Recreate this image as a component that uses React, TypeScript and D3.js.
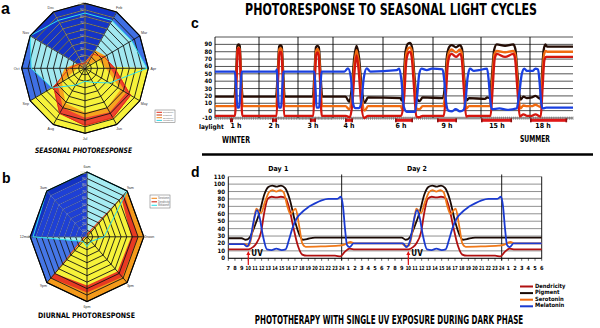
import React, { useLayoutEffect, useRef, useState } from 'react';
import * as d3 from 'd3';

const NARROW = "'Liberation Sans Narrow','DejaVu Sans Condensed','Liberation Sans',Arial,sans-serif";
const COMIC = "'DejaVu Sans Condensed','DejaVu Sans',sans-serif";
const ARIAL = "'Liberation Sans',Arial,sans-serif";

// ---------------- Panel a : seasonal radar ----------------
const MONTHS = ['Jan', 'Feb', 'Mar', 'Apr', 'May', 'Jun', 'Jul', 'Aug', 'Sep', 'Oct', 'Nov', 'Dec'];
const A_BASE = [100, 100, 100, 100, 100, 100, 100, 100, 100, 100, 100, 100];
const A_CYAN = [85, 85, 85, 98, 45, 25, 20, 30, 60, 85, 100, 85];
const A_YELLOW = [0, 0, 8, 100, 100, 100, 100, 100, 100, 5, 0, 0];
const A_DARK = [100, 100, 0, 0, 0, 0, 0, 0, 0, 0, 100, 100];
const A_RED = [8, 25, 35, 47, 83, 88, 88, 80, 57, 25, 12, 8];
const A_ORANGE = [10, 32, 38, 40, 75, 78, 76, 70, 50, 32, 15, 8];
const A_INNER = [0, 5, 25, 33, 65, 70, 68, 62, 42, 12, 2, 0];

// ---------------- Panel b : diurnal radar ----------------
const DAYTIMES = ['6am', '9am', '12noon', '3pm', '6pm', '9pm', '12midn', '3am'];
const B_BASE = [100, 100, 100, 100, 100, 100, 100, 100];
const B_CYAN = [100, 100, 30, 10, 15, 10, 95, 100];
const B_DARK = [100, 0, 0, 0, 0, 0, 100, 100];
const B_DARK2 = [90, 0, 0, 0, 0, 0, 90, 90];
const B_ORANGE = [3, 100, 100, 100, 100, 100, 3, 2];
const B_RED = [5, 93, 90, 88, 86, 90, 6, 3];
const B_YELLOW = [2, 85, 78, 76, 75, 80, 3, 2];

const RING_VALUES = [10, 20, 30, 40, 50, 60, 70, 80, 90, 100];
const RING_LABELS = ['10', '20', '30', '40', '50', '60', '70', '80', '90', '100'];

// ---------------- Panel c : seasonal light cycles ----------------
const SEG_HOURS = [0, 24, 48, 72, 96, 120, 144, 168, 192];
const C_Y_TICKS = [-10, 0, 10, 20, 30, 40, 50, 60, 70, 80, 90, 100];
const C_Y_LABELS = ['-10', '0', '10', '20', '30', '40', '50', '60', '70', '80', '90'];
const C_SEG_LABELS = ['1 h', '2 h', '3 h', '4 h', '6 h', '9 h', '15 h', '18 h'];
const C_LABEL_HOURS = [11.5, 33.2, 58.3, 79.7, 104.6, 127, 151.8, 175.3];
const C_LIGHT_ON = [8.2, 32, 56.2, 77.8, 101.8, 122, 144, 168];
const C_LIGHT_OFF = [9.8, 35.1, 60.3, 81.6, 110.4, 132, 159.2, 188.7];

const C_BLACK: [number, number][] = [
  [0, 19], [10.6, 19], [11.6, 55], [12.2, 88], [12.9, 90], [13.5, 88], [14.1, 55], [15.1, 19],
  [34.5, 19], [35.6, 55], [36.4, 87], [37.2, 89], [38, 87], [38.8, 55], [39.8, 19],
  [58.2, 19], [59.4, 55], [60.3, 86], [61.3, 88], [62.3, 86], [63.3, 55], [64.6, 19],
  [78, 19], [79.8, 12], [81, 30], [82.2, 72], [83.3, 88], [84.5, 72], [85.8, 30], [87.2, 11], [88.8, 18],
  [104.3, 17], [105, 13.5], [105.8, 35], [106.8, 80], [108, 91], [109, 92], [110, 85], [111, 50], [112.3, 16], [113.6, 13], [115, 18],
  [125, 17], [126, 35], [127, 75], [128.2, 87], [129.3, 89], [131.5, 86], [133.5, 89], [134.5, 84], [135.6, 45], [136.8, 14], [138, 17],
  [146, 16], [147, 18], [148.3, 17], [149.3, 45], [150.4, 82], [151.7, 90], [155.8, 88], [159.8, 90], [160.8, 84], [162, 45], [163.4, 15], [164.8, 19], [166.5, 17],
  [169, 18], [171, 20], [173.8, 16], [174.6, 45], [175.6, 82], [176.6, 90], [177.5, 87], [180, 87], [192, 87],
];
const C_ORANGE: [number, number][] = [
  [0, 6], [10.7, 6], [11.7, 50], [12.3, 83], [12.9, 86], [13.5, 83], [14.1, 50], [15.1, 6],
  [34.6, 6], [35.7, 50], [36.5, 83], [37.2, 85], [37.9, 83], [38.7, 50], [39.7, 6],
  [58.3, 6], [59.5, 50], [60.4, 81], [61.3, 84], [62.2, 81], [63.2, 50], [64.5, 6],
  [78, 6], [79.8, 2], [81.1, 22], [82.3, 65], [83.3, 82], [84.4, 65], [85.7, 22], [87.2, 0], [88.8, 6],
  [104.5, 6], [105.2, 2], [106, 30], [107, 75], [108.2, 85], [109, 86], [109.9, 80], [110.9, 45], [112.2, 3], [113.6, 2], [115, 6],
  [125.2, 6], [126.2, 30], [127.2, 70], [128.3, 81], [129.3, 83], [131.5, 79], [133.5, 83], [134.4, 78], [135.5, 40], [136.7, 3], [138, 6],
  [148.5, 6], [149.5, 40], [150.5, 76], [151.7, 81], [155.8, 79], [159.8, 81], [160.8, 76], [161.9, 40], [163.2, 3], [164.8, 7], [166.5, 6],
  [169, 6], [171, 8], [173.9, 5], [174.8, 40], [175.8, 76], [176.8, 81], [177.7, 80], [192, 80],
];
const C_RED: [number, number][] = [
  [0, -7], [10.9, -7], [11.8, 45], [12.4, 82], [12.9, 85], [13.4, 82], [14, 45], [14.9, -7],
  [34.8, -7], [35.8, 45], [36.6, 78], [37.2, 80], [37.8, 78], [38.6, 45], [39.5, -7],
  [58.5, -7], [59.6, 45], [60.5, 76], [61.3, 79], [62.1, 76], [63, 45], [64.3, -7],
  [78.2, -7], [80, -9], [81.3, 10], [82.4, 55], [83.3, 75], [84.3, 55], [85.5, 10], [87, -10], [88.8, -7],
  [104.7, -7], [106.2, 20], [107.2, 68], [108.3, 79], [109, 80], [109.8, 72], [110.8, 35], [112, -8], [113.3, -9], [115, -7],
  [125.4, -7], [126.4, 20], [127.4, 63], [128.4, 75], [129.3, 77], [131.5, 73], [133.5, 77], [134.3, 72], [135.4, 30], [136.6, -8], [138, -7],
  [148.7, -7], [149.7, 30], [150.7, 70], [151.7, 77], [155.8, 73], [159.8, 77], [160.7, 70], [161.8, 30], [163, -8], [164.8, -5], [166.5, -7],
  [169, -7], [171, -5], [174, -8], [175, 30], [176, 68], [177, 73], [192, 73],
];
const C_BLUE: [number, number][] = [
  [0, 53], [10.8, 53], [11.6, 30], [12.2, 4], [13.2, 4], [13.9, 30], [14.6, 53],
  [34.4, 53], [35, 56], [35.6, 30], [36.3, 4], [37.6, 4], [38.3, 30], [39, 53],
  [59.2, 53], [60, 30], [60.7, 4], [62.5, 4], [63.3, 30], [64.2, 53],
  [77.5, 53], [79.2, 57.5], [80.6, 45], [81.6, 10], [82.6, 3.5], [84.5, 3.5], [85.5, 10], [86.8, 45], [88.2, 57.5], [90, 53],
  [102.6, 55], [103.8, 57], [104.9, 40], [106, 5], [107.4, -1.5], [111.4, -1.5], [112.4, 20], [113.4, 50], [114.5, 57], [117, 55], [119.5, 57],
  [124.8, 56], [125.6, 42], [126.7, 8], [127.7, 0], [129.5, -1], [131.3, 2], [133.5, -1], [135.3, 1], [136.3, 15], [137.3, 45], [138.5, 57], [140.5, 54], [143, 55],
  [147, 57], [147.8, 40], [148.6, 12], [149.4, 2], [153, 3], [157, 1], [161.5, 3], [162.8, 25], [164, 50], [165.2, 57], [166.5, 54],
  [169.5, 54], [171, 57], [172.5, 56], [173.3, 40], [174.2, 12], [175, 3], [177, 4], [192, 4],
];

// ---------------- Panel d : phototherapy ----------------
const D_Y_TICKS = [0, 10, 20, 30, 40, 50, 60, 70, 80, 90, 100, 110];
const D_X_HOURS = [7, 8, 9, 10, 11, 12, 13, 14, 15, 16, 17, 18, 19, 20, 21, 22, 23, 24, 25, 26, 27, 28, 29, 30, 31, 32, 33, 34, 35, 36, 37, 38, 39, 40, 41, 42, 43, 44, 45, 46, 47, 48, 49, 50, 51, 52, 53, 54];
const D_X_LABELS = ['7', '8', '9', '10', '11', '12', '13', '14', '15', '16', '17', '18', '19', '20', '21', '22', '23', '24', '1', '2', '3', '4', '5', '6', '7', '8', '9', '10', '11', '12', '13', '14', '15', '16', '17', '18', '19', '20', '21', '22', '23', '24', '1', '2', '3', '4', '5', '6'];
const D_DAY_LINES = [24, 48];
const D_DAYS = ['Day 1', 'Day 2'];
const D_DAY_LABEL_HOURS = [14.5, 35.3];
const D_UV_HOURS = [10, 34];
const D_LEGEND = ['Dendricity', 'Pigment', 'Serotonin', 'Melatonin'];

const D_BLACK: [number, number][] = [
  [7, 27], [9, 27], [9.6, 25], [10.2, 28], [10.9, 42], [11.7, 62], [12.4, 86], [13, 96], [13.6, 98], [14.2, 96.5], [14.9, 98], [15.5, 95], [16.2, 80], [17, 50], [17.7, 31], [18.2, 25], [18.8, 26], [20, 28],
  [33, 28], [33.6, 25], [34.2, 28], [34.9, 42], [35.7, 62], [36.4, 86], [37, 96], [37.6, 98], [38.2, 96.5], [38.9, 98], [39.5, 95], [40.2, 80], [41, 50], [41.7, 31], [42.2, 25], [42.8, 26], [44, 28], [54, 28],
];
const D_ORANGE: [number, number][] = [
  [7, 19], [9.5, 19], [10.1, 17], [10.6, 35], [11.2, 67], [11.9, 61], [12.5, 76], [13.1, 89], [13.6, 92], [14.2, 90], [14.8, 92], [15.3, 89], [15.8, 72], [16.3, 60], [17.1, 67], [17.6, 45], [18.1, 20], [18.6, 15.5], [21, 16], [23.5, 17], [24.3, 18], [25.3, 22], [26, 20],
  [33, 20], [33.5, 17], [34.1, 17], [34.6, 35], [35.2, 67], [35.9, 61], [36.5, 76], [37.1, 89], [37.6, 92], [38.2, 90], [38.8, 92], [39.3, 89], [39.8, 72], [40.3, 60], [41.1, 67], [41.6, 45], [42.1, 20], [42.6, 15.5], [45, 16], [47.5, 17], [48.3, 18], [49.3, 22], [50, 20], [54, 20],
];
const D_RED: [number, number][] = [
  [7, 12], [10, 12], [10.7, 15], [11.2, 20], [11.9, 35], [12.4, 62], [12.9, 80], [13.5, 83], [14.2, 82], [14.9, 83], [15.6, 81], [16.2, 65], [16.8, 40], [17.4, 18], [18.1, 5], [18.8, 3.5], [23, 3.5], [23.8, 2.5], [24.5, 9], [25.2, 13], [26, 12],
  [34, 12], [34.7, 15], [35.2, 20], [35.9, 35], [36.4, 62], [36.9, 80], [37.5, 83], [38.2, 82], [38.9, 83], [39.6, 81], [40.2, 65], [40.8, 40], [41.4, 18], [42.1, 5], [42.8, 3.5], [47, 3.5], [47.8, 2.5], [48.5, 9], [49.2, 13], [50, 12], [54, 12],
];
const D_BLUE: [number, number][] = [
  [7, 19], [9.3, 19], [9.8, 16], [10.3, 25], [10.8, 50], [11.3, 65], [11.7, 55], [12.2, 30], [12.8, 12], [13.5, 11], [14.2, 13], [15, 11], [15.6, 12], [16.1, 25], [16.6, 40], [17.2, 53], [17.8, 60], [19, 69], [20, 74], [21, 78], [22, 80], [23.3, 80], [23.9, 83], [24.2, 70], [24.5, 40], [24.8, 18], [25.2, 15], [25.8, 20],
  [33.2, 20], [33.7, 15], [34.3, 25], [34.8, 50], [35.3, 65], [35.7, 55], [36.2, 30], [36.8, 12], [37.5, 11], [38.2, 13], [39, 11], [39.6, 12], [40.1, 25], [40.6, 40], [41.2, 53], [41.8, 60], [43, 69], [44, 74], [45, 78], [46, 80], [47.3, 80], [47.9, 83], [48.2, 70], [48.5, 40], [48.8, 18], [49.2, 15], [49.8, 20], [54, 20],
];

type Layer = { values: number[]; fill: string; stroke?: string; sw?: number };

// Text squeezed horizontally to a target width through a real transform.
function FitText(props: { x: number; y: number; width: number; fontSize: number; italic?: boolean; children: string }) {
  const { x, y, width, fontSize, italic, children } = props;
  const ref = useRef<SVGTextElement>(null);
  const [s, setS] = useState(0.7);
  useLayoutEffect(() => {
    if (ref.current) {
      const w = ref.current.getComputedTextLength();
      if (w > 0) setS(width / w);
    }
  }, [width, children]);
  return (
    <text ref={ref} transform={`translate(${x},${y}) scale(${s},1)`} textAnchor="middle" fontSize={fontSize}
      fontWeight="bold" fontStyle={italic ? 'italic' : 'normal'} fontFamily={COMIC}>{children}</text>
  );
}

function Radar(props: {
  id: string; cx: number; cy: number; rx: number; ry: number; labels: string[];
  layers: Layer[]; darkValues: number[]; darkRing: string;
  overlays: { values: number[]; stroke: string; sw: number }[];
}) {
  const { id, cx, cy, rx, ry, labels, layers, darkValues, darkRing, overlays } = props;
  const n = labels.length;
  const rs = d3.scaleLinear().domain([0, 100]).range([0, 1]);
  const pt = (v: number, i: number): [number, number] => {
    const a = (i * 2 * Math.PI) / n;
    return [cx + rx * rs(v) * Math.sin(a), cy - ry * rs(v) * Math.cos(a)];
  };
  const path = (vals: number[]) => d3.line().curve(d3.curveLinearClosed)(vals.map((v, i) => pt(v, i))) as string;
  const ringPaths = RING_VALUES.map((v) => path(labels.map(() => v)));
  const spokes = labels.map((_, i) => pt(100, i));
  const grid = (color: string, w: number) => (
    <g fill="none" stroke={color} strokeWidth={w}>
      {ringPaths.map((d, k) => <path key={'r' + k} d={d} />)}
      {spokes.map((p, k) => <line key={'s' + k} x1={cx} y1={cy} x2={p[0]} y2={p[1]} />)}
    </g>
  );
  return (
    <g>
      <defs>
        <clipPath id={id + 'clip'}><path d={path(darkValues)} /></clipPath>
      </defs>
      {layers.map((l, k) => (
        <path key={k} d={path(l.values)} fill={l.fill} stroke={l.stroke || 'none'} strokeWidth={l.sw || 0} />
      ))}
      {grid('#151515', 0.9)}
      <g clipPath={`url(#${id}clip)`}>{grid(darkRing, 0.9)}</g>
      {overlays.map((o, k) => (
        <path key={'o' + k} d={path(o.values)} fill="none" stroke={o.stroke} strokeWidth={o.sw} />
      ))}
      <path d={ringPaths[ringPaths.length - 1]} fill="none" stroke="#000" strokeWidth={1.1} />
      {labels.map((lab, i) => {
        const p = pt(108, i);
        return (
          <text key={'l' + i} x={p[0]} y={Math.max(p[1] + 1.2, 4.5)} fontSize={3.6} textAnchor="middle" fill="#333" fontFamily={ARIAL}>{lab}</text>
        );
      })}
      {RING_VALUES.map((v, k) => {
        const p = pt(v, 0);
        return (
          <text key={'t' + k} x={p[0] - 1.5} y={p[1] + 1.5} fontSize={3.2} textAnchor="end" fill="#cfc9a0" fontFamily={ARIAL}>{RING_LABELS[k]}</text>
        );
      })}
    </g>
  );
}

function ChartC() {
  const segPx = [215, 259, 298, 333, 383, 433, 481, 530, 573];
  const x = d3.scaleLinear().domain(SEG_HOURS).range(segPx);
  const y = d3.scaleLinear().domain([-10, 100]).range([118, 37]);
  const line = d3.line<[number, number]>().x((d) => x(d[0])).y((d) => y(d[1])).curve(d3.curveMonotoneX);
  const hourTicks = d3.range(0, 193, 1);
  return (
    <g>
      {C_Y_TICKS.map((t) => (
        <line key={t} x1={x(0)} x2={x(192)} y1={y(t)} y2={y(t)} stroke="#2a2a2a" strokeWidth={0.8} />
      ))}
      {SEG_HOURS.slice(0, 8).map((h) => (
        <line key={h} x1={x(h)} x2={x(h)} y1={y(100)} y2={y(-10)} stroke="#000" strokeWidth={0.9} />
      ))}
      {hourTicks.map((h) => (
        <line key={h} x1={x(h)} x2={x(h)} y1={116.5} y2={120} stroke="#555" strokeWidth={0.5} />
      ))}
      {C_Y_LABELS.map((l, i) => (
        <text key={l} x={212} y={y(C_Y_TICKS[i]) + 2} fontSize={6} fontWeight="bold" textAnchor="end" fontFamily={NARROW}>{l}</text>
      ))}
      {C_LIGHT_ON.map((on, i) => (
        <g key={i}>
          <rect x={x(on)} y={118.8} width={Math.max(2, x(C_LIGHT_OFF[i]) - x(on))} height={3} fill="#e01818" />
          <rect x={x(on)} y={118.3} width={1.6} height={4} fill="#8a1010" />
          <rect x={x(on) + Math.max(2, x(C_LIGHT_OFF[i]) - x(on)) - 1.6} y={118.3} width={1.6} height={4} fill="#8a1010" />
        </g>
      ))}
      <path d={line(C_BLACK) as string} fill="none" stroke="#240c04" strokeWidth={2.3} />
      <path d={line(C_ORANGE) as string} fill="none" stroke="#f06a10" strokeWidth={2.3} />
      <path d={line(C_RED) as string} fill="none" stroke="#d4160e" strokeWidth={2.3} />
      <path d={line(C_BLUE) as string} fill="none" stroke="#1a40e0" strokeWidth={2.3} />
      {C_SEG_LABELS.map((l, i) => (
        <text key={l} x={x(C_LABEL_HOURS[i])} y={128} fontSize={7} fontWeight="bold" textAnchor="middle" fontFamily={NARROW}>{l}</text>
      ))}
      <text x={199} y={129} fontSize={6.5} fontWeight="bold" fontFamily={NARROW}>laylight</text>
      <text x={222} y={143} fontSize={9} fontWeight="bold" fontFamily={NARROW} textLength={28} lengthAdjust="spacingAndGlyphs">WINTER</text>
      <text x={520} y={142} fontSize={9} fontWeight="bold" fontFamily={NARROW} textLength={30} lengthAdjust="spacingAndGlyphs">SUMMER</text>
    </g>
  );
}

function ChartD() {
  const x = d3.scaleLinear().domain([7, 54]).range([228.3, 541.7]);
  const y = d3.scaleLinear().domain([0, 110]).range([258.3, 176.7]);
  const line = d3.line<[number, number]>().x((d) => x(d[0])).y((d) => y(d[1])).curve(d3.curveMonotoneX);
  const legendColors = ['#b01010', '#1a0a05', '#f06a10', '#1a3ad0'];
  return (
    <g>
      {D_Y_TICKS.map((t) => (
        <line key={t} x1={x(7)} x2={x(54)} y1={y(t)} y2={y(t)} stroke="#858585" strokeWidth={0.9} />
      ))}
      <line x1={x(7)} x2={x(7)} y1={y(110)} y2={y(0)} stroke="#000" strokeWidth={0.9} />
      <line x1={x(54)} x2={x(54)} y1={y(110)} y2={y(0)} stroke="#000" strokeWidth={0.9} />
      <line x1={x(7)} x2={x(54)} y1={y(0)} y2={y(0)} stroke="#000" strokeWidth={0.9} />
      {D_DAY_LINES.map((h) => (
        <line key={h} x1={x(h)} x2={x(h)} y1={y(113)} y2={y(-3)} stroke="#000" strokeWidth={0.9} />
      ))}
      {D_X_HOURS.map((h) => (
        <line key={h} x1={x(h)} x2={x(h)} y1={y(0)} y2={y(0) + 2.5} stroke="#000" strokeWidth={0.6} />
      ))}
      {D_Y_TICKS.map((t) => (
        <text key={t} x={225} y={y(t) + 2} fontSize={6} fontWeight="bold" textAnchor="end" fontFamily={NARROW}>{t}</text>
      ))}
      {D_X_HOURS.map((h, i) => {
        const lab = D_X_LABELS[i];
        return lab.length > 1 ? (
          <text key={h} x={x(h)} y={270} fontSize={5.6} fontWeight="bold" textAnchor="middle" fontFamily={NARROW} textLength={5.4} lengthAdjust="spacingAndGlyphs">{lab}</text>
        ) : (
          <text key={h} x={x(h)} y={270} fontSize={5.6} fontWeight="bold" textAnchor="middle" fontFamily={NARROW}>{lab}</text>
        );
      })}
      <path d={line(D_BLACK) as string} fill="none" stroke="#1a0a05" strokeWidth={1.8} />
      <path d={line(D_RED) as string} fill="none" stroke="#b01010" strokeWidth={1.8} />
      <path d={line(D_ORANGE) as string} fill="none" stroke="#f07818" strokeWidth={1.8} />
      <path d={line(D_BLUE) as string} fill="none" stroke="#1a3ad0" strokeWidth={1.8} />
      {D_DAYS.map((l, i) => (
        <text key={l} x={x(D_DAY_LABEL_HOURS[i])} y={171} fontSize={7} fontWeight="bold" textAnchor="middle" fontFamily={NARROW}>{l}</text>
      ))}
      {D_UV_HOURS.map((h) => (
        <g key={h}>
          <line x1={x(h)} x2={x(h)} y1={265} y2={254} stroke="#e01010" strokeWidth={1.2} />
          <path d={`M${x(h) - 2},${255} L${x(h)},${251} L${x(h) + 2},${255} Z`} fill="#e01010" />
          <text x={x(h) + 3} y={256} fontSize={8} fontWeight="bold" fontFamily={NARROW}>UV</text>
        </g>
      ))}
      {D_LEGEND.map((l, i) => (
        <g key={l}>
          <line x1={520} x2={533} y1={286.5 + i * 6.6} y2={286.5 + i * 6.6} stroke={legendColors[i]} strokeWidth={2} />
          <text x={535} y={288.5 + i * 6.6 - 1} fontSize={5.8} fontWeight="bold" fontFamily={NARROW}>{l}</text>
        </g>
      ))}
    </g>
  );
}

export default function App() {
  return (
    <svg width={600} height={328} viewBox="0 0 600 328" style={{ position: 'absolute', left: 0, top: 0, background: '#fff' }}>
      <rect x={0} y={0} width={600} height={328} fill="#fff" />
      <Radar
        id="ra" cx={85} cy={68.3} rx={63.3} ry={65} labels={MONTHS}
        layers={[
          { values: A_BASE, fill: '#3f6fe4' },
          { values: A_CYAN, fill: '#a2e8f0' },
          { values: A_YELLOW, fill: '#f6f23a' },
          { values: A_DARK, fill: '#1434c8' },
          { values: A_RED, fill: '#ee4430', stroke: '#e02a1a', sw: 0.8 },
          { values: A_ORANGE, fill: '#f5a21e' },
          { values: A_INNER, fill: '#f6f23a' },
        ]}
        darkValues={A_DARK} darkRing="#8c8a78"
        overlays={[{ values: A_CYAN, stroke: '#2fe0ee', sw: 1 }, { values: A_RED, stroke: '#e02a1a', sw: 0.9 }]}
      />
      <Radar
        id="rb" cx={87} cy={236.8} rx={56.8} ry={64.8} labels={DAYTIMES}
        layers={[
          { values: B_BASE, fill: '#4576e6' },
          { values: B_CYAN, fill: '#a6ecf2' },
          { values: B_DARK, fill: '#1232c4' },
          { values: B_DARK2, fill: '#1e40d6' },
          { values: B_ORANGE, fill: '#f49a1a' },
          { values: B_RED, fill: '#e83a22' },
          { values: B_YELLOW, fill: '#f6f23a' },
        ]}
        darkValues={B_DARK} darkRing="#5a78e8"
        overlays={[{ values: B_CYAN, stroke: '#2fe0ee', sw: 1 }]}
      />
      {/* legends of radars */}
      <g>
        <rect x={155} y={110} width={20} height={12.5} fill="#fff" stroke="#666" strokeWidth={0.5} />
        {['#e02a1a', '#c23a10', '#f08a20', '#30d8e8'].map((c, i) => (
          <line key={c} x1={156.5} x2={162} y1={112.3 + i * 2.7} y2={112.3 + i * 2.7} stroke={c} strokeWidth={1} />
        ))}
        {['Dendricity', 'Pigment', 'Serotonin', 'Melatonin'].map((t, i) => (
          <text key={t} x={163} y={113.2 + i * 2.7} fontSize={2.4} fill="#666" fontFamily={ARIAL}>{t}</text>
        ))}
        <rect x={150} y={195} width={20} height={13} fill="#fff" stroke="#666" strokeWidth={0.5} />
        {['#f08a20', '#d02818', '#30e0e8'].map((c, i) => (
          <line key={c} x1={151.5} x2={157} y1={198.3 + i * 3.5} y2={198.3 + i * 3.5} stroke={c} strokeWidth={1.1} />
        ))}
        {['Serotonin', 'Dendricity', 'Melatonin'].map((t, i) => (
          <text key={t} x={158} y={199.3 + i * 3.5} fontSize={2.6} fill="#666" fontFamily={ARIAL}>{t}</text>
        ))}
      </g>
      <ChartC />
      <ChartD />
      <line x1={202} x2={593} y1={154.5} y2={154.5} stroke="#000" strokeWidth={2.6} />
      <text x={1} y={14} fontSize={16} fontWeight="bold" fontFamily={ARIAL}>a</text>
      <text x={2} y={183} fontSize={14} fontWeight="bold" fontFamily={ARIAL}>b</text>
      <text x={191} y={28} fontSize={14} fontWeight="bold" fontFamily={ARIAL}>c</text>
      <text x={191} y={177} fontSize={14} fontWeight="bold" fontFamily={ARIAL}>d</text>
      <FitText x={83.5} y={153} width={97} fontSize={7.5} italic>SEASONAL PHOTORESPONSE</FitText>
      <FitText x={86.5} y={318} width={97} fontSize={7.5}>DIURNAL PHOTORESPONSE</FitText>
      <FitText x={391} y={15} width={292} fontSize={15}>PHOTORESPONSE TO SEASONAL LIGHT CYCLES</FitText>
      <FitText x={389} y={323.5} width={268} fontSize={11.5}>PHOTOTHERAPY WITH SINGLE UV EXPOSURE DURING DARK PHASE</FitText>
    </svg>
  );
}
